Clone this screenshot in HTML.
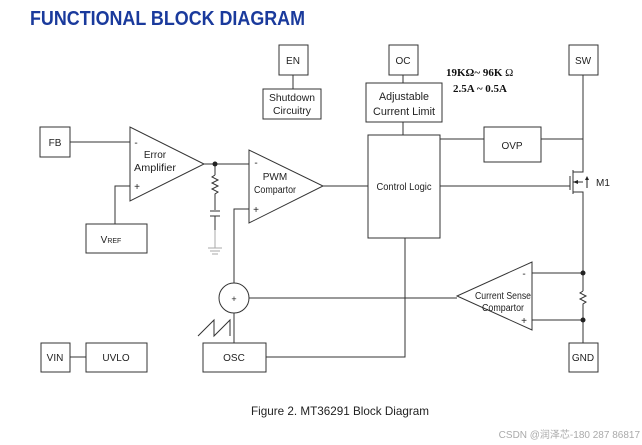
<!DOCTYPE html>
<html><head><meta charset="utf-8"><style>
body{margin:0;background:#fff;}
svg{display:block;font-family:"Liberation Sans",sans-serif;}
</style></head><body>
<svg width="642" height="445" viewBox="0 0 642 445" xmlns="http://www.w3.org/2000/svg">
<text x="30" y="25" font-size="20" font-weight="bold" fill="#1a3a9c" font-family="Liberation Sans,sans-serif" textLength="275" lengthAdjust="spacingAndGlyphs">FUNCTIONAL BLOCK DIAGRAM</text>
<g stroke="#333" stroke-width="1" fill="none">
<rect x="279" y="45" width="29" height="30" fill="#fff"/>
<rect x="263" y="89" width="58" height="30" fill="#fff"/>
<rect x="389" y="45" width="29" height="30" fill="#fff"/>
<rect x="366" y="83" width="76" height="39" fill="#fff"/>
<rect x="569" y="45" width="29" height="30" fill="#fff"/>
<rect x="40" y="127" width="30" height="30" fill="#fff"/>
<rect x="368" y="135" width="72" height="103" fill="#fff"/>
<rect x="484" y="127" width="57" height="35" fill="#fff"/>
<rect x="86" y="224" width="61" height="29" fill="#fff"/>
<rect x="41" y="343" width="29" height="29" fill="#fff"/>
<rect x="86" y="343" width="61" height="29" fill="#fff"/>
<rect x="203" y="343" width="63" height="29" fill="#fff"/>
<rect x="569" y="343" width="29" height="29" fill="#fff"/>
<line x1="293" y1="75" x2="293" y2="89"/>
<line x1="403" y1="75" x2="403" y2="83"/>
<line x1="403" y1="122" x2="403" y2="135"/>
<line x1="70" y1="142" x2="130" y2="142"/>
<polyline points="130,186 115,186 115,224"/>
<line x1="70" y1="357" x2="86" y2="357"/>
<polygon points="130,127 130,201 204,164"/>
<polygon points="249,150 249,223 323,186"/>
<polygon points="532,262 532,330 457,296"/>
<line x1="204" y1="164" x2="249" y2="164"/>
<line x1="215" y1="164" x2="215" y2="175"/>
<polyline points="215,175 212,177 218,180 212,183 218,186 212,189 218,192 215,194 215,210"/>
<line x1="210" y1="211" x2="220" y2="211"/>
<line x1="210" y1="216" x2="220" y2="216"/>
<line x1="215" y1="216" x2="215" y2="230"/>
<line x1="323" y1="186" x2="368" y2="186"/>
<polyline points="249,209 234,209 234,283"/>
<circle cx="234" cy="298" r="15" fill="#fff"/>
<line x1="234" y1="313" x2="234" y2="343"/>
<line x1="249" y1="298" x2="457" y2="298"/>
<polyline points="405,238 405,357 266,357"/>
<polyline points="198,336 214,320 214,336 230,320 230,336"/>
<line x1="440" y1="139" x2="484" y2="139"/>
<line x1="541" y1="139" x2="583" y2="139"/>
<line x1="583" y1="75" x2="583" y2="170"/>
<line x1="583" y1="200" x2="583" y2="291"/>
<polyline points="583,291 580,293 586,296 580,299 586,302 583,304 583,343"/>
<line x1="532" y1="273" x2="583" y2="273"/>
<line x1="532" y1="320" x2="583" y2="320"/>
<line x1="440" y1="186" x2="570" y2="186"/>
<line x1="570" y1="176" x2="570" y2="190"/>
<line x1="573" y1="170" x2="573" y2="194"/>
<polyline points="573,172 583,172 583,170"/>
<polyline points="573,192 583,192 583,200"/>
<line x1="573" y1="182" x2="583" y2="182"/>
</g>
<g stroke="#aaa" stroke-width="1">
<line x1="215" y1="230" x2="215" y2="248"/>
<line x1="208" y1="248" x2="222" y2="248"/>
<line x1="210" y1="251" x2="220" y2="251"/>
<line x1="212" y1="254" x2="218" y2="254"/>
</g>
<g fill="#222">
<circle cx="215" cy="164" r="2.5"/>
<circle cx="583" cy="273" r="2.5"/>
<circle cx="583" cy="320" r="2.5"/>
<polygon points="573,182 578,180 578,184"/>
<polygon points="587,176 585,180 589,180"/>
</g>
<line x1="587" y1="180" x2="587" y2="188" stroke="#222"/>
<g font-size="10" fill="#222" text-anchor="middle">
<text x="293" y="64">EN</text>
<text x="292" y="101" textLength="46" lengthAdjust="spacingAndGlyphs">Shutdown</text>
<text x="292" y="114" textLength="38" lengthAdjust="spacingAndGlyphs">Circuitry</text>
<text x="403" y="64">OC</text>
<text x="404" y="100" font-size="11" textLength="50" lengthAdjust="spacingAndGlyphs">Adjustable</text>
<text x="404" y="115" font-size="11" textLength="62" lengthAdjust="spacingAndGlyphs">Current Limit</text>
<text x="583" y="64">SW</text>
<text x="55" y="146">FB</text>
<text x="155" y="158">Error</text>
<text x="155" y="171" textLength="42" lengthAdjust="spacingAndGlyphs">Amplifier</text>
<text x="136" y="146">-</text>
<text x="137" y="190">+</text>
<text x="275" y="180">PWM</text>
<text x="275" y="193" textLength="42" lengthAdjust="spacingAndGlyphs">Compartor</text>
<text x="256" y="166">-</text>
<text x="256" y="213">+</text>
<text x="404" y="190" textLength="55" lengthAdjust="spacingAndGlyphs">Control Logic</text>
<text x="512" y="149">OVP</text>
<text x="603" y="186">M1</text>
<text x="111" y="243">V<tspan font-size="7">REF</tspan></text>
<text x="55" y="361">VIN</text>
<text x="116" y="361">UVLO</text>
<text x="234" y="361">OSC</text>
<text x="583" y="361">GND</text>
<text x="503" y="299" textLength="56" lengthAdjust="spacingAndGlyphs">Current Sense</text>
<text x="503" y="311" textLength="42" lengthAdjust="spacingAndGlyphs">Compartor</text>
<text x="524" y="277">-</text>
<text x="524" y="324">+</text>
<text x="234" y="302" font-size="9">+</text>
<text x="340" y="415" font-size="12" textLength="178" lengthAdjust="spacingAndGlyphs">Figure 2. MT36291 Block Diagram</text>
</g>
<g font-family="Liberation Serif,serif" font-weight="bold" font-size="11" fill="#111">
<text x="446" y="76">19KΩ~ 96K <tspan font-weight="normal">Ω</tspan></text>
<text x="453" y="92">2.5A ~ 0.5A</text>
</g>
<text x="640" y="438" font-size="10" fill="#aaa" text-anchor="end" font-family="Liberation Sans,Noto Sans CJK SC,sans-serif">CSDN @润泽芯-180 287 86817</text>
</svg>
</body></html>
